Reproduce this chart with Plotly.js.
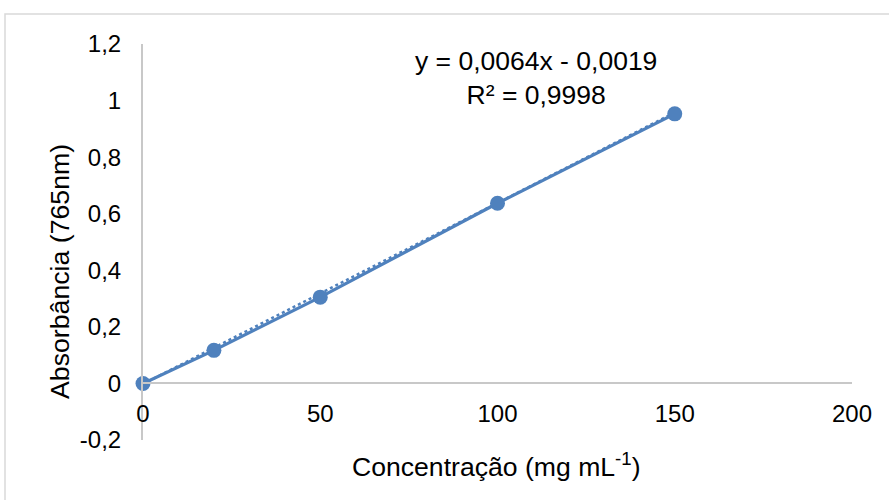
<!DOCTYPE html>
<html>
<head>
<meta charset="utf-8">
<script src="https://cdn.plot.ly/plotly-3.0.1.min.js"></script>
<style>html,body{margin:0;padding:0;background:#fff;}#chart{width:889px;height:500px;}</style>
</head>
<body>
<div id="chart"></div>
<script>
const concentration = [0, 20, 50, 100, 150];
const absorbance = [0, 0.117, 0.305, 0.637, 0.953];
const trendX = [0, 150];
const trendY = [-0.0019, 0.9581];
const yTickVals = [-0.2, 0, 0.2, 0.4, 0.6, 0.8, 1, 1.2];
const yTickText = ['-0,2', '0', '0,2', '0,4', '0,6', '0,8', '1', '1,2'];
const xTickVals = [0, 50, 100, 150, 200];
const xTickText = ['0', '50', '100', '150', '200'];

const blue = '#4f81bd';
const font = 'Liberation Sans, Arial, sans-serif';

const traces = [
  {x: trendX, y: trendY, mode: 'lines', line: {color: blue, width: 2.5, dash: 'dot'}, hoverinfo: 'skip', cliponaxis: false},
  {x: concentration, y: absorbance, mode: 'lines+markers', line: {color: blue, width: 3.2}, marker: {color: blue, size: 15}, cliponaxis: false}
];

const layout = {
  width: 889, height: 500,
  margin: {l: 143, r: 37, t: 44, b: 60},
  paper_bgcolor: '#fff', plot_bgcolor: '#fff',
  showlegend: false,
  font: {family: font, color: '#000', size: 24},
  xaxis: {
    range: [0, 200], tickvals: xTickVals, ticktext: xTickText,
    showgrid: false, zeroline: false, showline: true, linecolor: '#c8c8c8', linewidth: 2,
    anchor: 'free', position: 0.2 / 1.4, ticks: '', ticklabelstandoff: 9,
    tickfont: {size: 24, family: font}
  },
  yaxis: {
    range: [-0.2, 1.2], tickvals: yTickVals, ticktext: yTickText,
    showgrid: false, zeroline: false, showline: true, linecolor: '#c8c8c8', linewidth: 2,
    ticks: '', ticklabelstandoff: 15,
    tickfont: {size: 24, family: font}
  },
  annotations: [
    {xref: 'x', yref: 'paper', x: 110.9, y: (440 - 78) / 396, yanchor: 'middle', xanchor: 'center', showarrow: false,
     text: 'y = 0,0064x - 0,0019<br>R² = 0,9998', font: {size: 26.5, family: font}, align: 'center'},
    {xref: 'paper', yref: 'paper', x: (496.5 - 143) / 709, y: (440 - 465) / 396, yanchor: 'middle', xanchor: 'center', showarrow: false,
     text: 'Concentração (mg mL<sup>-1</sup>)', font: {size: 26.6, family: font}},
    {xref: 'paper', yref: 'paper', x: (60 - 143) / 709, y: (440 - 272) / 396, yanchor: 'middle', xanchor: 'center', showarrow: false,
     textangle: -90, text: 'Absorbância (765nm)', font: {size: 26.7, family: font}}
  ],
  shapes: [
    {type: 'rect', xref: 'paper', yref: 'paper', x0: (5 - 143) / 709, x1: 1.2, y0: -0.3, y1: (440 - 14) / 396,
     line: {color: '#d9d9d9', width: 1.5}, fillcolor: 'rgba(0,0,0,0)', layer: 'below'}
  ]
};

Plotly.newPlot('chart', traces, layout, {displayModeBar: false, staticPlot: true});
</script>
</body>
</html>
